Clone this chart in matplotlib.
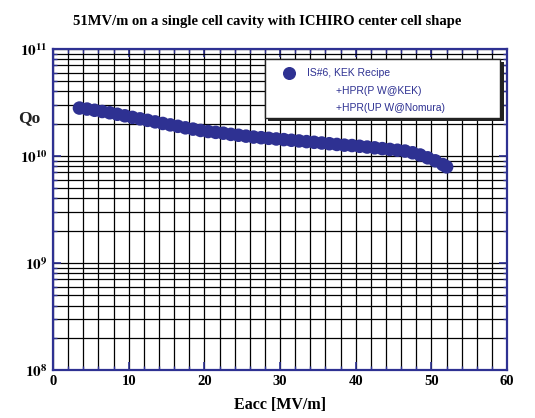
import matplotlib
matplotlib.use('Agg')
import matplotlib.pyplot as plt
from matplotlib.patches import Rectangle
from matplotlib.ticker import LogLocator, MultipleLocator, NullFormatter

plt.rcParams['mathtext.fontset'] = 'stix'

# данные
eacc = [3.5, 4.5, 5.5, 6.5, 7.5, 8.5, 9.5, 10.5, 11.5, 12.5,
        13.5, 14.5, 15.5, 16.5, 17.5, 18.5, 19.5, 20.5, 21.5, 22.5,
        23.5, 24.5, 25.5, 26.5, 27.5, 28.5, 29.5, 30.5, 31.5, 32.5,
        33.5, 34.5, 35.5, 36.5, 37.5, 38.5, 39.5, 40.5, 41.5, 42.5,
        43.5, 44.5, 45.5, 46.5, 47.5, 48.5, 49.5, 50.5, 51.5, 52.0]
qo = [2.80e10, 2.74e10, 2.67e10, 2.60e10, 2.53e10, 2.45e10, 2.37e10, 2.29e10, 2.22e10, 2.15e10,
      2.08e10, 2.01e10, 1.95e10, 1.89e10, 1.83e10, 1.78e10, 1.73e10, 1.69e10, 1.66e10, 1.63e10,
      1.59e10, 1.56e10, 1.53e10, 1.50e10, 1.48e10, 1.46e10, 1.44e10, 1.42e10, 1.40e10, 1.38e10,
      1.36e10, 1.34e10, 1.32e10, 1.30e10, 1.28e10, 1.26e10, 1.25e10, 1.23e10, 1.21e10, 1.19e10,
      1.17e10, 1.15e10, 1.13e10, 1.11e10, 1.07e10, 1.02e10, 0.96e10, 0.90e10, 0.83e10, 0.79e10]
x_ticks = [0, 10, 20, 30, 40, 50, 60]
y_ticks = [1e8, 1e9, 1e10, 1e11]
y_labels = [r'$\mathbf{10^{8}}$', r'$\mathbf{10^{9}}$', r'$\mathbf{10^{10}}$', r'$\mathbf{10^{11}}$']
legend_lines = ['IS#6, KEK Recipe', '+HPR(P W@KEK)', '+HPR(UP W@Nomura)']

navy = '#2e3192'
serif = 'Liberation Serif'

fig = plt.figure(figsize=(5.35, 4.18), dpi=100)
ax = fig.add_axes([0.099, 0.115, 0.849, 0.768])

ax.set_yscale('log')
ax.set_xlim(0, 60)
ax.set_ylim(1e8, 1e11)

ax.scatter(eacc, qo, s=95, color=navy, edgecolors='none', zorder=3)

# сетка
ax.xaxis.set_minor_locator(MultipleLocator(2))
ax.yaxis.set_minor_locator(LogLocator(base=10, subs=range(2, 10)))
ax.yaxis.set_minor_formatter(NullFormatter())
ax.grid(True, which='both', color='black', linewidth=0.9, zorder=1)
ax.set_axisbelow(True)

ax.set_xticks(x_ticks)
ax.set_xticklabels([str(t) for t in x_ticks], fontfamily=serif, fontweight='bold', fontsize=10.5)
ax.set_yticks(y_ticks)
ax.set_yticklabels(y_labels, fontsize=11)

for s in ax.spines.values():
    s.set_color(navy)
    s.set_linewidth(1.6)
ax.tick_params(which='both', direction='in', color=navy, top=True, right=True)
ax.tick_params(which='major', length=6, width=1.2, pad=4)
ax.tick_params(which='minor', length=3, width=1)

ax.set_xlabel('Eacc [MV/m]', fontfamily=serif, fontweight='bold', fontsize=11.5, labelpad=6)
fig.text(0.055, 1 - 118 / 418, 'Qo', fontfamily=serif, fontweight='bold', fontsize=12.5,
         ha='center', va='center', color='#222222')
fig.text(0.5, 1 - 22 / 418, '51MV/m on a single cell cavity with ICHIRO center cell shape',
         fontfamily=serif, fontweight='bold', fontsize=10.5, ha='center', va='center')

# легенда вручную: рамка с тенью
ax.add_patch(Rectangle((0.474, 0.776), 0.518, 0.184, transform=ax.transAxes,
                       facecolor='#222222', edgecolor='none', zorder=4))
ax.add_patch(Rectangle((0.467, 0.785), 0.518, 0.184, transform=ax.transAxes,
                       facecolor='white', edgecolor='#222222', linewidth=1, zorder=5))
ax.scatter([0.52], [0.925], s=70, color=navy, transform=ax.transAxes, zorder=6, clip_on=False)
ax.text(0.559, 0.925, legend_lines[0], transform=ax.transAxes, color=navy, fontsize=7.5,
        fontfamily='Liberation Sans', va='center', zorder=6)
ax.text(0.623, 0.869, legend_lines[1], transform=ax.transAxes, color=navy, fontsize=7.5,
        fontfamily='Liberation Sans', va='center', zorder=6)
ax.text(0.623, 0.816, legend_lines[2], transform=ax.transAxes, color=navy, fontsize=7.5,
        fontfamily='Liberation Sans', va='center', zorder=6)

plt.savefig('out.png', dpi=100)
